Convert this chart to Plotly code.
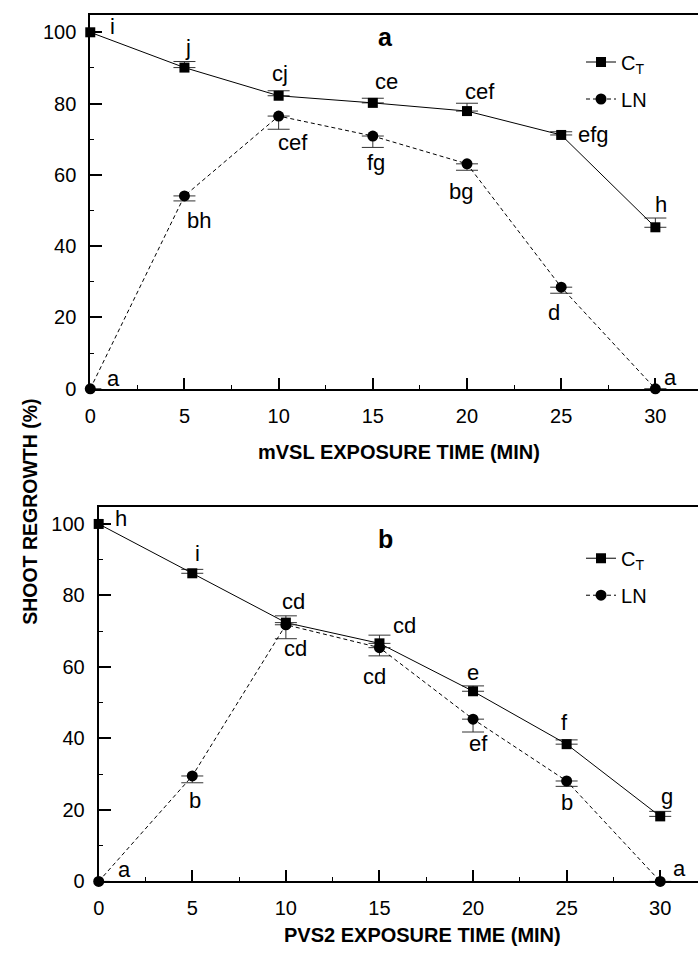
import plotly.graph_objects as go

# ---------------- data ----------------
time_min = [0, 5, 10, 15, 20, 25, 30]
x_ticks = [0, 5, 10, 15, 20, 25, 30]
y_ticks = [0, 20, 40, 60, 80, 100]

# Panel a : mVSL
a_ct = [100, 90.1, 82.2, 80.2, 77.9, 71.2, 45.3]
a_ct_err = [0, 1.7, 1.4, 1.3, 2.2, 0.9, 2.6]
a_ln = [0, 54.1, 76.5, 70.9, 63.1, 28.5, 0]
a_ln_err = [0, 1.4, 3.7, 3.2, 1.8, 1.7, 0]
a_ct_letters = ["i", "j", "cj", "ce", "cef", "efg", "h"]
a_ln_letters = ["a", "bh", "cef", "fg", "bg", "d", "a"]

# Panel b : PVS2
b_ct = [100, 86.2, 72.4, 66.6, 53.2, 38.4, 18.2]
b_ct_err = [0, 1.1, 1.9, 2.3, 1.5, 1.2, 1.4]
b_ln = [0, 29.5, 71.8, 65.4, 45.4, 28.1, 0]
b_ln_err = [0, 1.9, 3.9, 2.3, 3.6, 1.5, 0]
b_ct_letters = ["h", "i", "cd", "cd", "e", "f", "g"]
b_ln_letters = ["a", "b", "cd", "cd", "ef", "b", "a"]

series_names = ["C<sub>T</sub>", "LN"]
x_title_a = "mVSL EXPOSURE TIME (MIN)"
x_title_b = "PVS2 EXPOSURE TIME (MIN)"
y_title = "SHOOT REGROWTH (%)"

# ---------------- style ----------------
W, H = 698, 956
FONT = "Liberation Sans, Arial, sans-serif"

# label offsets (px) : (dx, dy) with dy positive = downward on screen
a_ct_off = [(22, -6), (4, -20), (1, -22), (14, -21), (13, -20), (32, 0), (6, -23)]
a_ln_off = [(23, -10), (15, 25), (14, 26), (3, 26), (-6, 28), (-7, 25), (15, -11)]
b_ct_off = [(22, -5), (5, -20), (8, -21), (25, -18), (0, -19), (-2, -22), (7, -20)]
b_ln_off = [(26, -12), (3, 25), (10, 24), (-5, 29), (5, 24), (0, 22), (19, -13)]

# panel geometry in pixels
top_px = dict(left=85, right=698, top=15, bottom=393.3)
bot_px = dict(left=93.5, right=698, top=512.7, bottom=891.7)


def dom_x(p):
    return [p["left"] / W, p["right"] / W]


def dom_y(p):
    return [1 - p["bottom"] / H, 1 - p["top"] / H]


fig = go.Figure()


def add_panel(xa, ya, ct, ct_err, ln, ln_err, legend):
    fig.add_trace(go.Scatter(
        x=time_min, y=ct, mode="lines+markers", name=series_names[0],
        xaxis=xa, yaxis=ya, legend=legend, legendgroup=legend + "ct",
        line=dict(color="black", width=1),
        marker=dict(symbol="square", size=10, color="black"),
        error_y=dict(type="data", symmetric=False, array=ct_err,
                     arrayminus=[0] * len(ct_err), color="#333",
                     thickness=1, width=11),
        cliponaxis=False,
    ))
    fig.add_trace(go.Scatter(
        x=time_min, y=ln, mode="lines+markers", name=series_names[1],
        xaxis=xa, yaxis=ya, legend=legend, legendgroup=legend + "ln",
        line=dict(color="black", width=1, dash="4px,3px"),
        marker=dict(symbol="circle", size=11, color="black"),
        error_y=dict(type="data", symmetric=False, array=[0] * len(ln_err),
                     arrayminus=ln_err, color="#333", thickness=1, width=11),
        cliponaxis=False,
    ))


add_panel("x", "y", a_ct, a_ct_err, a_ln, a_ln_err, "legend")
add_panel("x2", "y2", b_ct, b_ct_err, b_ln, b_ln_err, "legend2")

annotations = []


def add_letters(xref, yref, xs, ys, letters, offs):
    for xv, yv, t, (dx, dy) in zip(xs, ys, letters, offs):
        annotations.append(dict(
            x=xv, y=yv, xref=xref, yref=yref, text=t, showarrow=False,
            xanchor="center", yanchor="middle", xshift=dx, yshift=-dy,
            font=dict(family=FONT, size=22, color="black")))


add_letters("x", "y", time_min, a_ct, a_ct_letters, a_ct_off)
add_letters("x", "y", time_min, a_ln, a_ln_letters, a_ln_off)
add_letters("x2", "y2", time_min, b_ct, b_ct_letters, b_ct_off)
add_letters("x2", "y2", time_min, b_ln, b_ln_letters, b_ln_off)

# panel letters
annotations.append(dict(x=383 / W, y=1 - 37 / H, xref="paper", yref="paper",
                        text="<b>a</b>", showarrow=False, xanchor="center",
                        yanchor="middle",
                        font=dict(family=FONT, size=25, color="black")))
annotations.append(dict(x=383 / W, y=1 - 545 / H, xref="paper", yref="paper",
                        text="<b>b</b>", showarrow=False, xanchor="center",
                        yanchor="middle",
                        font=dict(family=FONT, size=25, color="black")))
# axis titles
annotations.append(dict(x=396 / W, y=1 - 457 / H, xref="paper", yref="paper",
                        text="<b>" + x_title_a + "</b>", showarrow=False,
                        xanchor="center", yanchor="middle",
                        font=dict(family=FONT, size=20, color="black")))
annotations.append(dict(x=420 / W, y=1 - 946 / H, xref="paper", yref="paper",
                        text="<b>" + x_title_b + "</b>", showarrow=False,
                        xanchor="center", yanchor="middle",
                        font=dict(family=FONT, size=20, color="black")))
annotations.append(dict(x=24 / W, y=1 - 518 / H, xref="paper", yref="paper",
                        text="<b>" + y_title + "</b>", showarrow=False,
                        textangle=-90, xanchor="center", yanchor="middle",
                        font=dict(family=FONT, size=19.5, color="black")))

xcommon = dict(tickvals=x_ticks, ticks="inside", ticklen=11, tickwidth=1.5,
               tickcolor="black", showline=True, linewidth=2,
               linecolor="black", mirror=True, showgrid=False, zeroline=False,
               tickfont=dict(family=FONT, size=20, color="black"),
               ticklabelstandoff=8,
               minor=dict(dtick=2.5, tick0=0, ticks="inside", ticklen=4,
                          tickwidth=1, tickcolor="black", showgrid=False))
ycommon = dict(tickvals=y_ticks, ticks="inside", ticklen=12, tickwidth=1.5,
               tickcolor="black", showline=True, linewidth=2,
               linecolor="black", showgrid=False, zeroline=False,
               tickfont=dict(family=FONT, size=20, color="black"),
               ticklabelstandoff=8,
               minor=dict(dtick=10, tick0=0, ticks="inside", ticklen=4,
                          tickwidth=1, tickcolor="black", showgrid=False))

fig.update_layout(
    width=W, height=H, margin=dict(l=0, r=0, t=0, b=0),
    paper_bgcolor="white", plot_bgcolor="white",
    xaxis=dict(domain=dom_x(top_px), anchor="y",
               range=[0, (top_px["right"] - top_px["left"]) / 19.0], **xcommon),
    yaxis=dict(domain=dom_y(top_px), anchor="x", range=[0, 104.9], **ycommon),
    xaxis2=dict(domain=dom_x(bot_px), anchor="y2",
                range=[0, (bot_px["right"] - bot_px["left"]) / 18.88], **xcommon),
    yaxis2=dict(domain=dom_y(bot_px), anchor="x2", range=[0, 104.8], **ycommon),
    legend=dict(x=580 / W, y=1 - 43 / H, xanchor="left", yanchor="top",
                bgcolor="rgba(0,0,0,0)", tracegroupgap=8,
                font=dict(family=FONT, size=20, color="black")),
    legend2=dict(x=580 / W, y=1 - 545 / H, xanchor="left", yanchor="top",
                 bgcolor="rgba(0,0,0,0)", tracegroupgap=8,
                 font=dict(family=FONT, size=20, color="black")),
    annotations=annotations,
    showlegend=True,
)

fig.write_html("out.html")
